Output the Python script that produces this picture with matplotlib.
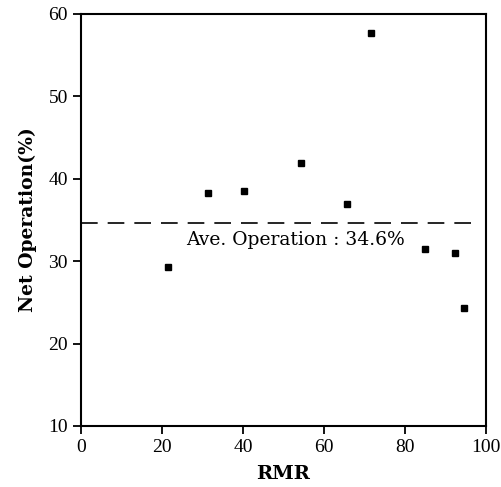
import matplotlib.pyplot as plt

# RMR vs net operation rate
rmr = [21.5, 31.4, 40.2, 54.3, 65.7, 71.6, 84.9, 92.3, 94.6]
net_op = [29.3, 38.3, 38.5, 41.9, 36.9, 57.7, 31.5, 31.0, 24.3]
ave_op = 34.6
x_ticks = [0, 20, 40, 60, 80, 100]
y_ticks = [10, 20, 30, 40, 50, 60]

plt.rcParams['font.family'] = ['Liberation Serif', 'DejaVu Serif']

fig = plt.figure(figsize=(5.01, 4.87), dpi=100)
ax = fig.add_axes([0.1617, 0.1253, 0.8083, 0.846])

ax.plot(rmr, net_op, 's', color='black', markersize=5, linestyle='none')
ax.plot([0, 97], [ave_op, ave_op], color='black', linewidth=1.2,
        linestyle=(0, (10, 6)))
ax.text(26, 32.6, 'Ave. Operation : %.1f%%' % ave_op, fontsize=13.5,
        family='DejaVu Serif', va='center', ha='left')

ax.set_xlim(0, 100)
ax.set_ylim(10, 60)
ax.set_xticks(x_ticks)
ax.set_yticks(y_ticks)
ax.tick_params(direction='out', length=6, width=1.3, labelsize=14)
for s in ax.spines.values():
    s.set_linewidth(1.5)

ax.set_xlabel('RMR', fontsize=14, fontweight='bold', family='DejaVu Serif',
              labelpad=6)
ax.set_ylabel('Net Operation(%)', fontsize=13.5, fontweight='bold',
              family='DejaVu Serif', labelpad=8)

fig.savefig('out.png', dpi=100)
